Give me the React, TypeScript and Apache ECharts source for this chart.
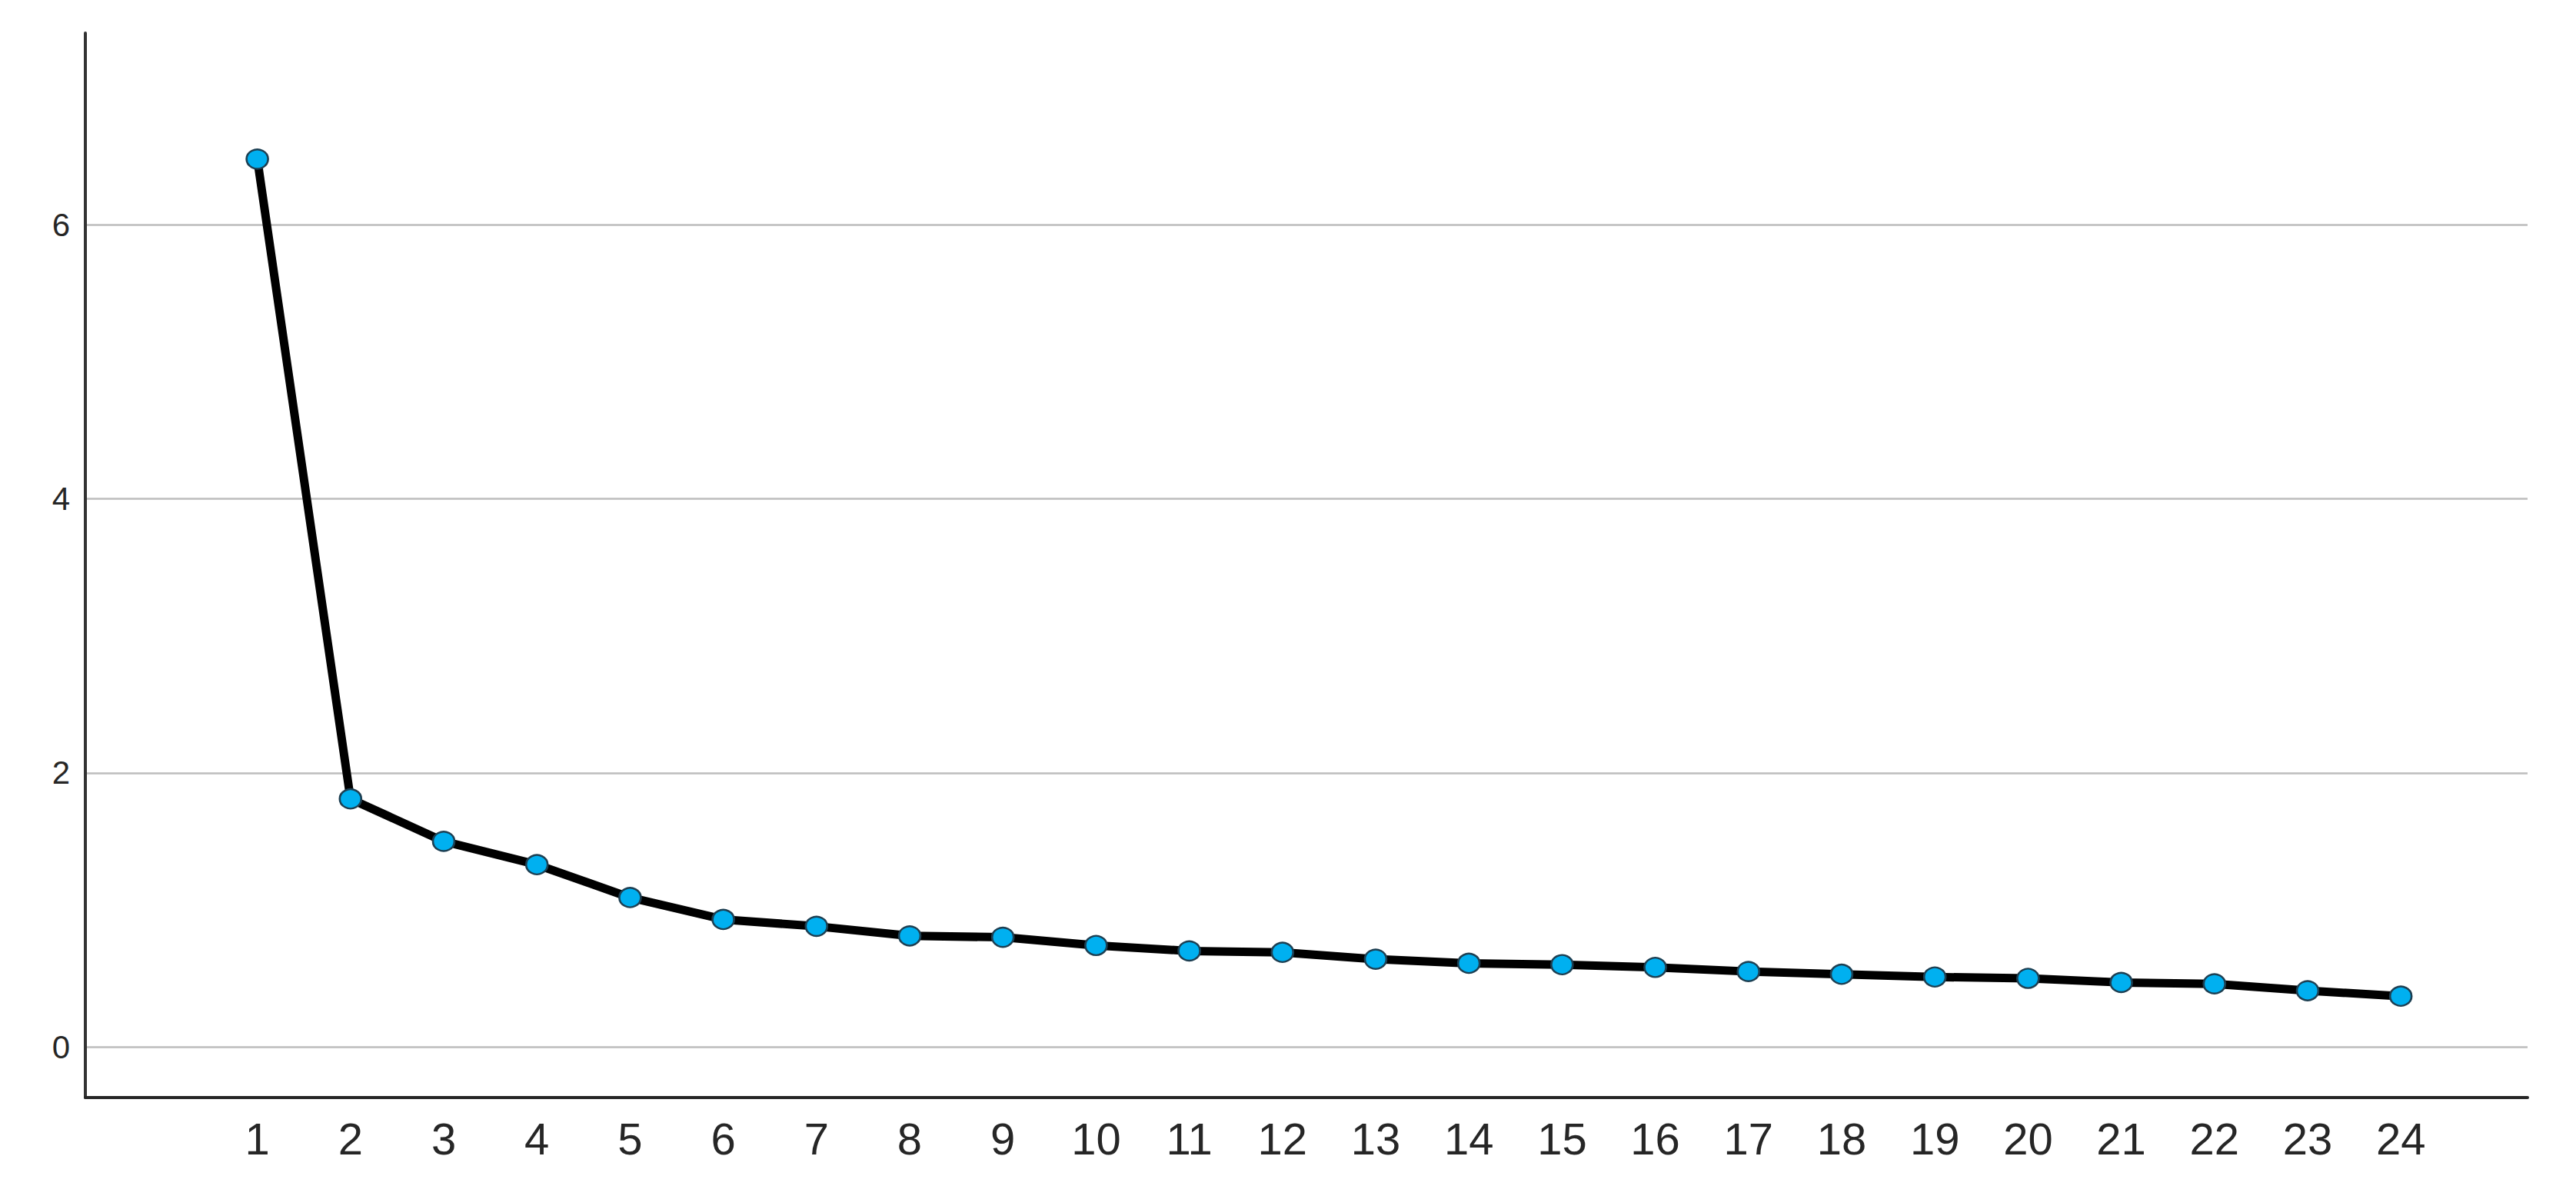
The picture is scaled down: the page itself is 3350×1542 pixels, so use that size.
import React, { useEffect, useRef } from "react";
import * as echarts from "echarts";

const components = [1, 2, 3, 4, 5, 6, 7, 8, 9, 10, 11, 12, 13, 14, 15, 16, 17, 18, 19, 20, 21, 22, 23, 24];
const eigenvalues = [6.48, 1.81, 1.5, 1.33, 1.09, 0.93, 0.88, 0.81, 0.8, 0.74, 0.7, 0.69, 0.64, 0.61, 0.6, 0.58, 0.55, 0.53, 0.51, 0.5, 0.47, 0.46, 0.41, 0.37];
const yTicks = [0, 2, 4, 6];
const xTicks = components;

export default function App() {
  const ref = useRef<HTMLDivElement>(null);
  useEffect(() => {
    document.body.style.margin = "0";
    const chart = echarts.init(ref.current!, null, { renderer: "svg" });
    chart.setOption({
      animation: false,
      backgroundColor: "#ffffff",
      grid: { left: 111, top: 43, right: 63, bottom: 115, containLabel: false },
      xAxis: {
        type: "value",
        min: -0.845,
        max: 25.36,
        axisLine: { show: true, onZero: false, lineStyle: { color: "#262626", width: 4 } },
        axisTick: { show: false, customValues: xTicks },
        axisLabel: {
          customValues: xTicks,
          fontFamily: "Liberation Sans",
          fontSize: 58,
          color: "#262626",
          margin: 24,
        },
        splitLine: { show: false },
      },
      yAxis: {
        type: "value",
        min: -0.37,
        max: 7.4,
        axisLine: { show: true, onZero: false, lineStyle: { color: "#333333", width: 4 } },
        axisTick: { show: false, customValues: yTicks },
        axisLabel: {
          customValues: yTicks,
          fontFamily: "Liberation Sans",
          fontSize: 42,
          color: "#262626",
          margin: 20,
        },
        splitLine: { show: true, lineStyle: { color: "#bdbdbd", width: 2.5 } },
      },
      series: [
        {
          type: "line",
          data: components.map((c, i) => [c, eigenvalues[i]]),
          lineStyle: { color: "#000000", width: 11 },
          symbol: "circle",
          symbolSize: [28, 25],
          showSymbol: true,
          itemStyle: { color: "#00B0F0", borderColor: "#1d3f52", borderWidth: 2.5 },
          z: 3,
        },
      ],
    });
    return () => chart.dispose();
  }, []);
  return <div ref={ref} style={{ width: 3350, height: 1542 }} />;
}
